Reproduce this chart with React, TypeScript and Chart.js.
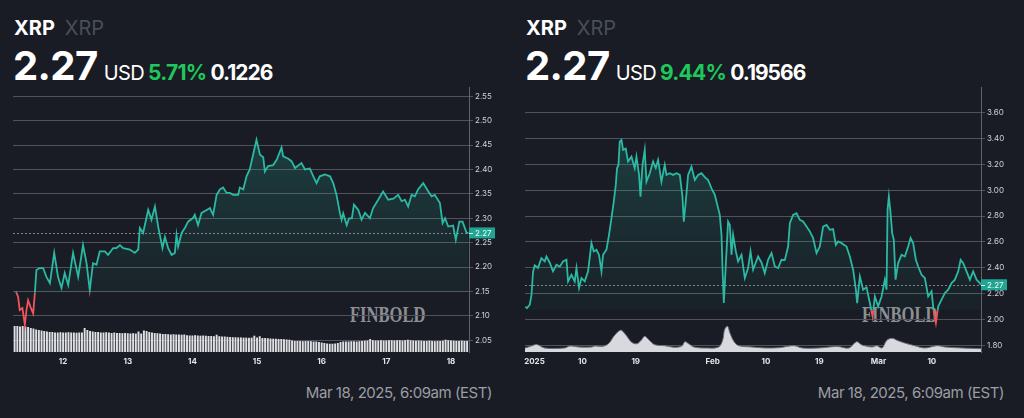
import React, { useEffect, useRef } from 'react';
import { Chart, registerables } from 'chart.js';

Chart.register(...registerables);

const BG = '#191c24';
const TEAL = '#2bb9a3';
const RED = '#f0555b';
const GRID = '#50535b';
const GREEN = '#1ec85a';

const currentPrice = 2.27;
const dateStamp = 'Mar 18, 2025, 6:09am (EST)';

// ---------- Left panel: 7 days (hours since Mar 11, 00:00) ----------
const leftHours = [
  6.5, 7.3, 7.9, 8.9, 9.8, 10.4, 11.0, 11.9, 12.9, 13.5,
  14.1, 15.3, 16.6, 17.8, 19.1, 20.7, 22.1, 23.4, 24.6, 25.9,
  27.7, 29.6, 31.4, 32.7, 33.9, 35.1, 36.4, 37.6, 39.5, 40.7,
  42.6, 43.8, 45.1, 46.3, 48.8, 50.6, 51.9, 52.5, 53.7, 55.6,
  56.8, 58.1, 59.3, 60.9, 61.8, 63.0, 64.3, 65.5, 66.1, 66.7,
  68.0, 69.2, 70.4, 72.3, 72.9, 74.1, 75.4, 77.3, 78.5, 79.7,
  81.0, 82.2, 83.4, 84.7, 85.9, 87.1, 89.0, 89.6, 90.9, 92.1,
  93.3, 95.8, 97.1, 98.3, 98.9, 100.1, 102.0, 103.3, 105.1, 105.7,
  107.6, 108.8, 110.1, 112.5, 113.8, 115.6, 116.9, 118.1, 119.3, 121.2,
  123.1, 124.3, 125.5, 126.8, 127.4, 128.0, 129.3, 130.2, 131.2, 132.0,
  133.6, 134.8, 136.1, 137.9, 139.1, 141.0, 142.8, 144.7, 146.6, 148.4,
  149.7, 150.9, 152.1, 153.4, 154.6, 155.8, 157.7, 159.6, 160.8, 162.0,
  163.9, 164.9, 165.8, 167.0, 168.8, 169.8, 171.1, 172.3, 173.8, 174.5,
];
const leftPrices = [
  2.150, 2.139, 2.112, 2.116, 2.082, 2.112, 2.132, 2.118, 2.105, 2.146,
  2.194, 2.198, 2.198, 2.180, 2.167, 2.229, 2.180, 2.157, 2.188, 2.163,
  2.229, 2.180, 2.245, 2.208, 2.153, 2.208, 2.205, 2.232, 2.232, 2.225,
  2.239, 2.239, 2.245, 2.239, 2.236, 2.229, 2.236, 2.280, 2.270, 2.317,
  2.297, 2.324, 2.283, 2.239, 2.262, 2.239, 2.225, 2.229, 2.266, 2.242,
  2.270, 2.280, 2.293, 2.301, 2.307, 2.286, 2.311, 2.317, 2.321, 2.307,
  2.348, 2.359, 2.363, 2.352, 2.352, 2.348, 2.348, 2.363, 2.359, 2.386,
  2.400, 2.461, 2.430, 2.425, 2.396, 2.407, 2.409, 2.420, 2.445, 2.427,
  2.422, 2.417, 2.403, 2.413, 2.400, 2.402, 2.386, 2.372, 2.386, 2.390,
  2.386, 2.372, 2.348, 2.310, 2.297, 2.310, 2.286, 2.300, 2.300, 2.328,
  2.317, 2.297, 2.311, 2.300, 2.321, 2.338, 2.355, 2.338, 2.340, 2.348,
  2.335, 2.338, 2.324, 2.348, 2.345, 2.359, 2.372, 2.355, 2.345, 2.348,
  2.331, 2.290, 2.300, 2.283, 2.285, 2.256, 2.293, 2.293, 2.270, 2.270,
];
const leftVolumeStartHour = 6;
const leftVolumes = [
  26, 26, 25.5, 26,
  25.5, 25, 24, 23.5,
  22.5, 22, 21.5, 21, 20.5, 20, 20,
  19.5, 19.5, 19.8, 19.5, 19.5, 19.8, 19.5, 19.5, 19.3, 19.5, 19.5,
  24, 22,
  21, 20.5, 20, 20, 19.5, 19.5, 19.8, 19.5, 19, 19.5, 19, 19, 18.8, 19,
  18.8, 18.5, 18.8, 18.5, 20.5, 18.5, 21.5, 21, 20, 19.5, 19, 18.8, 18.5,
  18, 18, 17.8, 17.5, 17.8, 17.5, 17.5, 17.3, 17.5,
  16.8, 16.5, 16.5, 16.8, 16.5, 16.3, 16.5, 16.3, 16, 16, 15.8, 17.3, 15.8, 15.5, 15.5,
  15.2, 15, 14.8, 14.8, 14.6, 14.6, 14.4, 14.4, 14.2, 14.4, 16.3, 14.4, 15.8,
  14, 14, 13.8, 13.5, 13.3, 13.3, 13, 13, 12.8, 12.5, 12.3,
  11.5, 11, 11, 11, 10.8, 11, 11, 10.8, 10.5, 10.5, 10, 9.5,
  9, 8.5, 8.3, 8.3, 8.5, 9,
  10, 10.5, 10.5, 10.5, 10.8, 10.8, 10.5, 10.8, 11,
  11.3, 11.5, 13, 11.8, 11.5, 11.5, 11.8, 11.5, 11.5, 11.8, 11.8, 11.5, 11.8, 11.8, 11.5, 11.8, 12.3, 11.8, 11.5, 11.3, 11.5, 11.3, 11, 11, 11.3,
  11, 10.8, 11, 11, 11.3, 12.3, 11.8, 11.5, 11.3, 11, 11, 11.3, 11, 11,
];
const leftYTicks = [2.05, 2.1, 2.15, 2.2, 2.25, 2.3, 2.35, 2.4, 2.45, 2.5, 2.55];
const leftXTicks = [24, 48, 72, 96, 120, 144, 168];
const leftXLabels = ['12', '13', '14', '15', '16', '17', '18'];
const leftChange = 0.1226;
const leftChangePct = '5.71%';

// ---------- Right panel: YTD (days since Jan 1) ----------
const rightDays = [
  -0.65, -0.36, 0.10, 0.39, 0.66, 0.94, 1.50, 2.07, 2.63, 2.92,
  3.48, 4.03, 4.61, 5.17, 5.72, 6.30, 6.57, 7.14, 7.70, 7.99,
  8.43, 8.83, 9.39, 9.95, 10.52, 10.91, 11.36, 11.80, 12.21, 12.48,
  13.05, 13.49, 13.90, 14.29, 14.63, 14.84, 15.08, 15.30, 15.59, 15.86,
  16.31, 16.70, 17.28, 17.83, 18.12, 18.56, 18.80, 19.14, 19.52, 19.81,
  20.37, 20.93, 21.38, 21.77, 22.34, 22.90, 23.19, 23.75, 24.30, 24.88,
  25.44, 25.89, 26.11, 26.45, 26.84, 27.41, 27.97, 28.53, 29.10, 29.66,
  30.22, 30.79, 31.35, 31.91, 32.19, 32.48, 32.65, 32.87, 33.21, 33.59,
  33.88, 34.17, 34.44, 34.90, 35.28, 35.86, 36.42, 36.97, 37.38, 37.82,
  38.66, 39.24, 39.79, 40.35, 40.93, 41.48, 42.04, 42.61, 43.17, 43.73,
  44.02, 44.57, 45.15, 45.71, 46.26, 46.84, 47.40, 47.95, 48.53, 49.08,
  49.64, 50.22, 50.77, 51.33, 51.79, 52.18, 52.75, 53.59, 54.15, 54.71,
  55.17, 55.39, 55.84, 56.40, 56.97, 57.53, 57.99, 58.38, 58.93, 59.51,
  60.06, 60.35, 60.52, 60.74, 61.03, 61.30, 61.58, 61.87, 62.31, 62.89,
  63.44, 64.00, 64.41, 64.84, 65.30, 65.69, 66.26, 66.82, 67.38, 67.95,
  68.34, 68.68, 69.07, 69.64, 70.20, 70.76, 71.33, 71.89, 72.45, 72.86,
  73.30, 73.86, 74.42, 74.98, 75.55, 76.11, 76.26,
];
const rightPrices = [
  2.10, 2.09, 2.116, 2.19, 2.37, 2.42, 2.40, 2.476, 2.45, 2.488,
  2.44, 2.373, 2.424, 2.41, 2.45, 2.463, 2.296, 2.347, 2.296, 2.399,
  2.245, 2.322, 2.296, 2.373, 2.591, 2.527, 2.54, 2.50, 2.373, 2.501,
  2.54, 2.655, 2.784, 2.912, 3.04, 3.169, 3.194, 3.374, 3.387, 3.31,
  3.32, 3.22, 3.258, 3.169, 3.258, 3.117, 2.95, 3.194, 3.31, 3.066,
  3.13, 3.22, 3.17, 3.233, 3.066, 3.194, 3.117, 3.13, 3.117, 3.13,
  3.117, 2.95, 2.757, 2.912, 3.117, 3.181, 3.078, 3.117, 3.13, 3.10,
  3.078, 3.014, 2.963, 2.861, 2.809, 2.655, 2.399, 2.129, 2.424, 2.757,
  2.732, 2.501, 2.655, 2.527, 2.45, 2.501, 2.322, 2.399, 2.527, 2.386,
  2.488, 2.44, 2.36, 2.463, 2.514, 2.411, 2.399, 2.463, 2.46, 2.565,
  2.745, 2.809, 2.822, 2.771, 2.758, 2.719, 2.681, 2.63, 2.514, 2.565,
  2.719, 2.732, 2.694, 2.70, 2.578, 2.604, 2.591, 2.565, 2.488, 2.386,
  2.232, 2.129, 2.334, 2.232, 2.25, 2.129, 2.026, 2.18, 2.103, 2.18,
  2.309, 2.232, 2.848, 2.95, 2.822, 2.668, 2.617, 2.309, 2.437, 2.501,
  2.488, 2.565, 2.63, 2.591, 2.463, 2.411, 2.347, 2.322, 2.18, 2.219,
  2.052, 1.975, 2.103, 2.155, 2.206, 2.232, 2.283, 2.309, 2.373, 2.463,
  2.437, 2.373, 2.309, 2.373, 2.309, 2.283, 2.27,
];
const rightVolumeDays = [
  -0.7, 0.4, 1.3, 2.6, 6.0, 6.9, 8.4, 10.6, 11.1, 12.3,
  13.4, 14.3, 15.1, 15.6, 16.5, 17.3, 18.2, 19.0, 19.5, 20.2,
  21.2, 22.9, 24.6, 25.8, 26.3, 27.0, 27.8, 29.7, 32.0, 32.7,
  33.0, 33.5, 33.9, 34.6, 35.4, 37.6, 39.8, 42.2, 44.7, 46.1,
  48.9, 52.0, 54.0, 55.3, 56.2, 57.9, 58.7, 59.6, 60.4, 61.3,
  62.1, 63.4, 65.1, 66.8, 68.9, 70.2, 73.1, 76.3,
];
const rightVolumes = [
  4, 6, 7.5, 4, 4, 6, 5, 5, 6, 5.5,
  8.3, 15.7, 20.7, 21.7, 15.7, 9.7, 8.3, 12.3, 15.7, 12.3,
  7.3, 6.3, 4.7, 6, 10.3, 8, 5, 4, 5, 12.3,
  22.3, 25.7, 19, 10.3, 6.3, 5, 4, 4.3, 6.3, 4,
  4, 5.5, 4, 10.3, 7, 5, 6.3, 4, 11.7, 13.7,
  11.7, 9, 6.3, 4, 6.3, 5, 4, 3.3,
];
const rightYTicks = [1.8, 2.0, 2.2, 2.4, 2.6, 2.8, 3.0, 3.2, 3.4, 3.6];
const rightXTicks = [0.9, 9, 18, 31, 40, 49, 59, 68];
const rightXLabels = ['2025', '10', '19', 'Feb', '10', '19', 'Mar', '10'];
const rightChange = 0.19566;
const rightChangePct = '9.44%';

type Spec = {
  times: number[];
  prices: number[];
  change: number;
  volKind: 'bar' | 'line';
  volX: number[];
  volY: number[];
  xMin: number;
  xMax: number;
  yMin: number;
  yMax: number;
  yTicks: number[];
  xTicks: number[];
  xLabels: string[];
};

const leftSpec: Spec = {
  times: leftHours,
  prices: leftPrices,
  change: leftChange,
  volKind: 'bar',
  volX: leftVolumes.map((_, i) => leftVolumeStartHour + i),
  volY: leftVolumes,
  xMin: 5.4,
  xMax: 174.7,
  yMin: 2.026,
  yMax: 2.569,
  yTicks: leftYTicks,
  xTicks: leftXTicks,
  xLabels: leftXLabels,
};

const rightSpec: Spec = {
  times: rightDays,
  prices: rightPrices,
  change: rightChange,
  volKind: 'line',
  volX: rightVolumeDays,
  volY: rightVolumes,
  xMin: -0.7,
  xMax: 76.3,
  yMin: 1.7515,
  yMax: 3.795,
  yTicks: rightYTicks,
  xTicks: rightXTicks,
  xLabels: rightXLabels,
};

const splitPlugin = {
  id: 'splitClip',
  beforeDatasetDraw(chart: any, args: any) {
    const ds = chart.data.datasets[args.index];
    if (!ds.side) return;
    const y = chart.scales.y.getPixelForValue(ds.baseValue);
    const a = chart.chartArea;
    const ctx = chart.ctx;
    ctx.save();
    ctx.beginPath();
    if (ds.side === 'above') ctx.rect(a.left, a.top - 10, a.right - a.left, y - a.top + 10);
    else ctx.rect(a.left, y, a.right - a.left, a.bottom - y + 10);
    ctx.clip();
  },
  afterDatasetDraw(chart: any, args: any) {
    const ds = chart.data.datasets[args.index];
    if (!ds.side) return;
    chart.ctx.restore();
  },
};

const markerPlugin = {
  id: 'priceMarker',
  beforeDatasetsDraw(chart: any) {
    const ctx = chart.ctx;
    const y = Math.round(chart.scales.y.getPixelForValue(currentPrice)) + 0.5;
    const a = chart.chartArea;
    ctx.save();
    ctx.strokeStyle = '#80838a';
    ctx.lineWidth = 1;
    ctx.setLineDash([2, 2]);
    ctx.beginPath();
    ctx.moveTo(a.left, y);
    ctx.lineTo(a.right, y);
    ctx.stroke();
    ctx.restore();
  },
  afterDraw(chart: any) {
    const ctx = chart.ctx;
    const y = chart.scales.y.getPixelForValue(currentPrice);
    const a = chart.chartArea;
    ctx.save();
    ctx.fillStyle = '#21a592';
    ctx.fillRect(a.right, y - 5.5, 26, 11);
    ctx.strokeStyle = '#d9fff8';
    ctx.lineWidth = 1;
    ctx.beginPath();
    ctx.moveTo(a.right, Math.round(y) + 0.5);
    ctx.lineTo(a.right + 4, Math.round(y) + 0.5);
    ctx.stroke();
    ctx.fillStyle = '#e6fffb';
    ctx.font = '8px Inter';
    ctx.textBaseline = 'middle';
    ctx.textAlign = 'left';
    ctx.fillText(currentPrice.toFixed(2), a.right + 6, y + 0.5);
    ctx.restore();
  },
};

function buildConfig(spec: Spec): any {
  const baseValue = currentPrice - spec.change;
  const pts = spec.times.map((t, i) => ({ x: t, y: spec.prices[i] }));
  const volData = spec.volX.map((t, i) => ({ x: t, y: spec.volY[i] }));
  const volumeDataset: any =
    spec.volKind === 'bar'
      ? {
          type: 'bar',
          data: volData,
          yAxisID: 'vol',
          backgroundColor: '#dfe0e4',
          borderWidth: 0,
          barPercentage: 0.72,
          categoryPercentage: 1,
          order: 2,
        }
      : {
          type: 'line',
          data: volData,
          yAxisID: 'vol',
          backgroundColor: '#d8d9de',
          borderColor: '#6d7078',
          borderWidth: 1,
          pointRadius: 0,
          tension: 0.35,
          fill: 'origin',
          order: 2,
        };

  return {
    type: 'line',
    data: {
      datasets: [
        {
          type: 'line',
          data: pts,
          yAxisID: 'y',
          borderColor: TEAL,
          borderWidth: 1.8,
          pointRadius: 0,
          tension: 0,
          side: 'above',
          baseValue,
          order: 1,
          fill: { target: { value: baseValue }, below: 'rgba(0,0,0,0)' },
          backgroundColor: (c: any) => {
            const chart = c.chart;
            const a = chart.chartArea;
            if (!a) return 'rgba(0,0,0,0)';
            const g = chart.ctx.createLinearGradient(0, a.top, 0, a.bottom);
            g.addColorStop(0, 'rgba(43,185,163,0.28)');
            g.addColorStop(0.6, 'rgba(43,185,163,0.09)');
            g.addColorStop(1, 'rgba(43,185,163,0.0)');
            return g;
          },
        },
        {
          type: 'line',
          data: pts,
          yAxisID: 'y',
          borderColor: RED,
          borderWidth: 1.8,
          pointRadius: 0,
          tension: 0,
          side: 'below',
          baseValue,
          order: 0,
          fill: false,
        },
        volumeDataset,
      ],
    },
    options: {
      responsive: false,
      maintainAspectRatio: false,
      animation: false,
      events: [],
      layout: { padding: { left: 13, top: 7, right: 0, bottom: 0 } },
      plugins: {
        legend: { display: false },
        tooltip: { enabled: false },
      },
      scales: {
        x: {
          type: 'linear',
          min: spec.xMin,
          max: spec.xMax,
          offset: false,
          grid: { display: false, drawTicks: false },
          border: { display: false },
          afterBuildTicks: (s: any) => {
            s.ticks = spec.xTicks.map((v) => ({ value: v }));
          },
          afterFit: (s: any) => {
            s.height = 28;
          },
          ticks: {
            autoSkip: false,
            maxRotation: 0,
            padding: 5,
            color: '#e4e5e8',
            font: { family: 'Inter', size: 8, weight: 'bold' },
            callback: (_v: any, i: number) => spec.xLabels[i],
          },
        },
        y: {
          type: 'linear',
          position: 'right',
          min: spec.yMin,
          max: spec.yMax,
          grid: { color: GRID, lineWidth: 1, drawTicks: true, tickLength: 4 },
          border: { display: true, color: '#5f626a' },
          afterBuildTicks: (s: any) => {
            s.ticks = spec.yTicks.map((v) => ({ value: v }));
          },
          afterFit: (s: any) => {
            s.width = 43;
          },
          ticks: {
            color: '#d0d1d5',
            padding: 2,
            font: { family: 'Inter', size: 8 },
            callback: (v: any) => Number(v).toFixed(2),
          },
        },
        vol: {
          type: 'linear',
          display: false,
          min: 0,
          max: 265,
        },
      },
    },
    plugins: [splitPlugin, markerPlugin],
  };
}

function Panel({ left, spec, change, pct }: { left: number; spec: Spec; change: number; pct: string }) {
  const ref = useRef<HTMLCanvasElement | null>(null);
  useEffect(() => {
    if (!ref.current) return;
    const chart = new Chart(ref.current, buildConfig(spec));
    return () => chart.destroy();
  }, [spec]);

  return (
    <div style={{ position: 'absolute', left, top: 0, width: 512, height: 418, fontFamily: 'Inter, sans-serif' }}>
      <div style={{ position: 'absolute', left: 14, top: 18, fontSize: 20, lineHeight: 1, whiteSpace: 'nowrap' }}>
        <span style={{ color: '#ffffff', fontWeight: 700 }}>XRP</span>
        <span style={{ color: '#4a4e57', fontWeight: 400, marginLeft: 10 }}>XRP</span>
      </div>
      <div
        style={{
          position: 'absolute',
          left: 13,
          top: 46,
          display: 'flex',
          alignItems: 'baseline',
          whiteSpace: 'nowrap',
          lineHeight: 1,
        }}
      >
        <span style={{ color: '#ffffff', fontWeight: 700, fontSize: 40, letterSpacing: -0.6 }}>
          {currentPrice.toFixed(2)}
        </span>
        <span style={{ color: '#ffffff', fontWeight: 400, fontSize: 20, marginLeft: 6, letterSpacing: -0.6 }}>USD</span>
        <span style={{ color: GREEN, fontWeight: 700, fontSize: 21, marginLeft: 4, letterSpacing: -0.7 }}>{pct}</span>
        <span style={{ color: '#ffffff', fontWeight: 700, fontSize: 21, marginLeft: 4, letterSpacing: -1 }}>
          {String(change)}
        </span>
      </div>
      <div
        style={{
          position: 'absolute',
          left: 350,
          top: 304,
          fontFamily: '"Liberation Serif", serif',
          fontWeight: 700,
          fontSize: 22.7,
          lineHeight: 1,
          color: '#8d8f94',
          transform: 'scaleX(0.73)',
          transformOrigin: 'left top',
          whiteSpace: 'nowrap',
        }}
      >
        FINBOLD
      </div>
      <canvas
        ref={ref}
        width={512}
        height={300}
        style={{ position: 'absolute', left: 0, top: 80, width: 512, height: 300 }}
      />
      <div
        style={{
          position: 'absolute',
          right: 20,
          top: 385,
          fontSize: 15,
          lineHeight: 1,
          color: '#9c9ea4',
          whiteSpace: 'nowrap',
          letterSpacing: -0.45,
        }}
      >
        {dateStamp}
      </div>
    </div>
  );
}

export default function App() {
  return (
    <div
      style={{
        position: 'absolute',
        left: 0,
        top: 0,
        width: 1024,
        height: 418,
        background: BG,
        overflow: 'hidden',
      }}
    >
      <Panel left={0} spec={leftSpec} change={leftChange} pct={leftChangePct} />
      <Panel left={512} spec={rightSpec} change={rightChange} pct={rightChangePct} />
    </div>
  );
}
